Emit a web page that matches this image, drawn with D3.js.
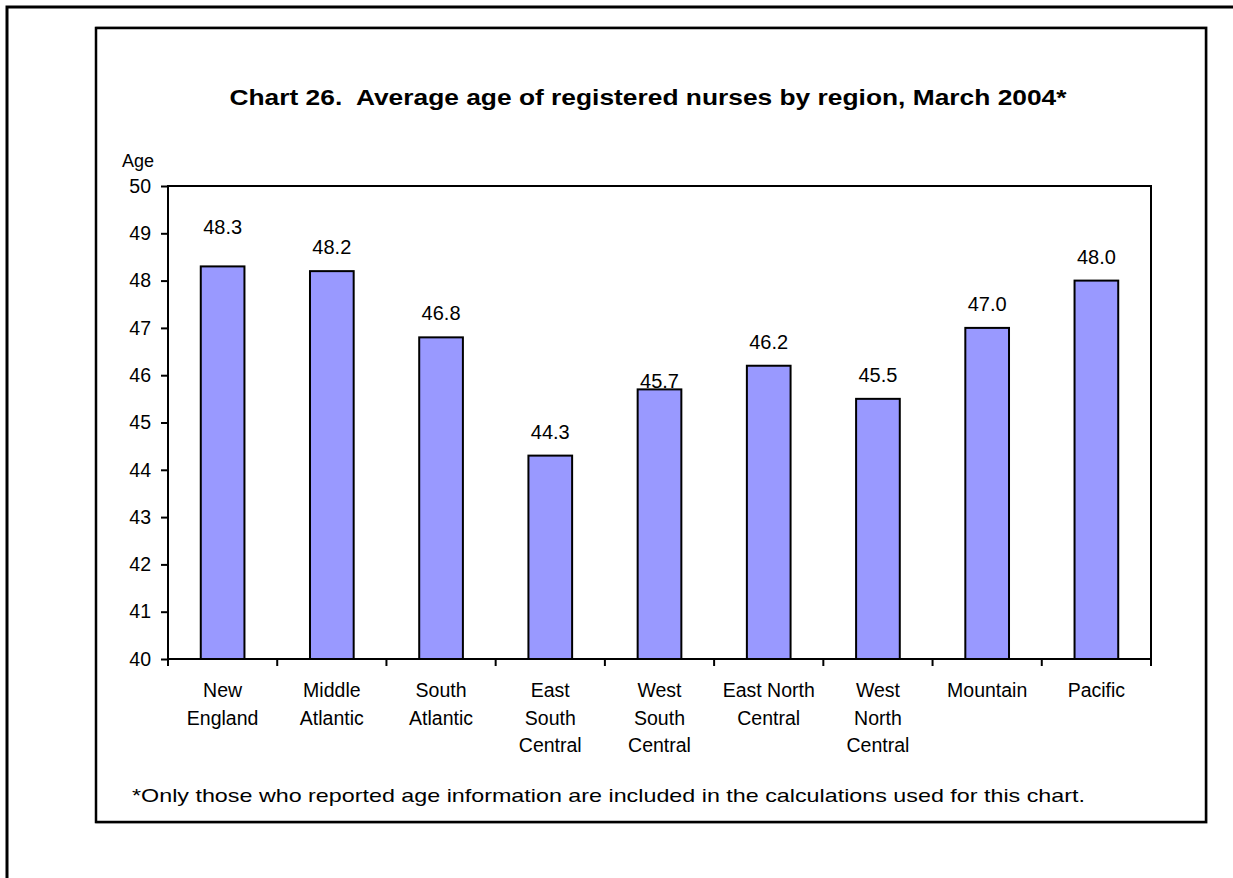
<!DOCTYPE html>
<html>
<head>
<meta charset="utf-8">
<script src="https://cdn.jsdelivr.net/npm/d3@7"></script>
<style>
  body { margin: 0; background: #fff; }
  text { font-family: "Liberation Sans", Arial, sans-serif; fill: #000; }
</style>
</head>
<body>
<script>
// data
const regions = [
  ["New", "England"],
  ["Middle", "Atlantic"],
  ["South", "Atlantic"],
  ["East", "South", "Central"],
  ["West", "South", "Central"],
  ["East North", "Central"],
  ["West", "North", "Central"],
  ["Mountain"],
  ["Pacific"]
];
const ages = [48.3, 48.2, 46.8, 44.3, 45.7, 46.2, 45.5, 47.0, 48.0];
const ageTicks = [40, 41, 42, 43, 44, 45, 46, 47, 48, 49, 50];

const svgWidth = 1233;
const svgHeight = 878;

// label nudges seen in the original (px, positive = up)
const labelNudge = [15, 0, 0, 0, -16, 0, 0, 0, 0];

const svg = d3.select("body")
              .append("svg")
              .attr("width", svgWidth)
              .attr("height", svgHeight);

// outer page frame (runs off the right and bottom)
svg.append("rect")
   .attr("x", 7).attr("y", 7)
   .attr("width", 1400).attr("height", 1000)
   .attr("fill", "none")
   .attr("stroke", "#000")
   .attr("stroke-width", 3);

// chart box with a faint shadow
svg.append("rect")
   .attr("x", 96).attr("y", 27)
   .attr("width", 1111).attr("height", 796)
   .attr("fill", "none")
   .attr("stroke", "#999")
   .attr("stroke-width", 1);
svg.append("rect")
   .attr("x", 96).attr("y", 28)
   .attr("width", 1110).attr("height", 794)
   .attr("fill", "#fff")
   .attr("stroke", "#000")
   .attr("stroke-width", 2.5);

svg.append("text")
   .attr("x", 648)
   .attr("y", 105)
   .attr("text-anchor", "middle")
   .attr("font-size", "22px")
   .attr("font-weight", "bold")
   .attr("textLength", 837)
   .attr("lengthAdjust", "spacingAndGlyphs")
   .style("white-space", "pre")
   .text("Chart 26.  Average age of registered nurses by region, March 2004*");

svg.append("text")
   .attr("x", 122)
   .attr("y", 167)
   .attr("font-size", "18px")
   .text("Age");

const plotLeft = 168, plotRight = 1151, plotTop = 186, plotBottom = 659;

const x = d3.scaleBand()
            .domain(d3.range(regions.length))
            .range([plotLeft, plotRight])
            .paddingInner(0.6)
            .paddingOuter(0.3);

const y = d3.scaleLinear()
            .domain([40, 50])
            .range([plotBottom, plotTop]);

// plot area border
svg.append("rect")
   .attr("x", plotLeft).attr("y", plotTop)
   .attr("width", plotRight - plotLeft)
   .attr("height", plotBottom - plotTop)
   .attr("fill", "none")
   .attr("stroke", "#000")
   .attr("stroke-width", 2);

// y axis
const yAxis = svg.append("g")
                 .attr("transform", `translate(${plotLeft},0)`)
                 .call(d3.axisLeft(y)
                         .tickValues(ageTicks)
                         .tickSize(7)
                         .tickPadding(10)
                         .tickFormat(d3.format("d")));
yAxis.select(".domain").remove();
yAxis.selectAll("line").attr("stroke", "#000").attr("stroke-width", 2);
yAxis.selectAll("text")
     .attr("font-size", "19.5px")
     .attr("font-family", "Liberation Sans, Arial, sans-serif");

// x axis ticks at category boundaries
const step = x.step();
const boundaries = d3.range(regions.length + 1).map(i => plotLeft + i * step);
svg.append("g")
   .selectAll("line")
   .data(boundaries)
   .enter()
   .append("line")
   .attr("x1", d => d).attr("x2", d => d)
   .attr("y1", plotBottom).attr("y2", plotBottom + 7)
   .attr("stroke", "#000")
   .attr("stroke-width", 2);

// bars
svg.append("g")
   .selectAll("rect")
   .data(ages)
   .enter()
   .append("rect")
   .attr("x", (d, i) => x(i))
   .attr("y", d => y(d))
   .attr("width", x.bandwidth())
   .attr("height", d => plotBottom - y(d))
   .attr("fill", "#9999ff")
   .attr("stroke", "#000")
   .attr("stroke-width", 2);

// value labels
svg.append("g")
   .selectAll("text")
   .data(ages)
   .enter()
   .append("text")
   .attr("x", (d, i) => x(i) + x.bandwidth() / 2)
   .attr("y", (d, i) => y(d) - 17 - labelNudge[i])
   .attr("text-anchor", "middle")
   .attr("font-size", "20px")
   .text(d => d.toFixed(1));

// category labels
const cats = svg.append("g")
                .selectAll("text")
                .data(regions)
                .enter()
                .append("text")
                .attr("text-anchor", "middle")
                .attr("font-size", "19.5px")
                .attr("transform", (d, i) => `translate(${x(i) + x.bandwidth() / 2},697)`);
cats.selectAll("tspan")
    .data(d => d)
    .enter()
    .append("tspan")
    .attr("x", 0)
    .attr("y", (d, j) => j * 27.5)
    .text(d => d);

svg.append("text")
   .attr("x", 132)
   .attr("y", 802)
   .attr("font-size", "19px")
   .attr("textLength", 953)
   .attr("lengthAdjust", "spacingAndGlyphs")
   .text("*Only those who reported age information are included in the calculations used for this chart.");
</script>
</body>
</html>
